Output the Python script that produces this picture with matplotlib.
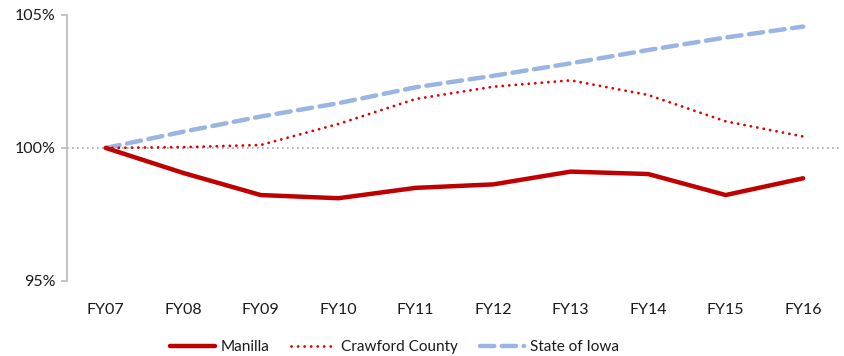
import matplotlib
matplotlib.use("Agg")
import matplotlib.pyplot as plt
from matplotlib.ticker import FuncFormatter

years = ['FY07', 'FY08', 'FY09', 'FY10', 'FY11', 'FY12', 'FY13', 'FY14', 'FY15', 'FY16']
manilla = [100.0, 99.06, 98.23, 98.11, 98.50, 98.63, 99.11, 99.02, 98.23, 98.86]
crawford = [100.0, 100.03, 100.11, 100.90, 101.84, 102.30, 102.54, 101.99, 101.00, 100.43]
iowa = [100.0, 100.61, 101.18, 101.68, 102.28, 102.71, 103.18, 103.68, 104.15, 104.56]

plt.rcParams['font.family'] = ['Lato', 'DejaVu Sans']

fig = plt.figure(figsize=(8.45, 3.56), dpi=100)
ax = fig.add_axes([0.0793, 0.2107, 0.917, 0.7475])

x = range(len(years))
ax.axhline(100, color='#a6a6a6', lw=1.2, ls=(0, (1, 2)), zorder=1)
ax.plot(x, manilla, color='#c00000', lw=3.2, solid_capstyle='round',
        solid_joinstyle='round', label='Manilla', zorder=3)
ax.plot(x, crawford, color='#e00000', lw=2.0, ls=(0, (0.05, 2.3)),
        dash_capstyle='round', label='Crawford County', zorder=3)
ax.plot(x, iowa, color='#9ab5e3', lw=3.2, ls=(0, (3.2, 1.7)),
        dash_capstyle='round', label='State of Iowa', zorder=2)

ax.set_xlim(-0.5, len(years) - 0.5)
ax.set_ylim(95, 105)
ax.set_yticks([95, 100, 105])
ax.yaxis.set_major_formatter(FuncFormatter(lambda v, p: '{:.0f}%'.format(v)))
ax.set_xticks(list(x))
ax.set_xticklabels(years)

for s in ['top', 'right', 'bottom']:
    ax.spines[s].set_visible(False)
ax.spines['left'].set_color('#bfbfbf')
ax.spines['left'].set_linewidth(1.3)
ax.tick_params(axis='y', colors='#bfbfbf', length=4, width=1.3, labelcolor='#1a1a1a',
               labelsize=11.5, pad=4)
ax.tick_params(axis='x', length=0, labelcolor='#1a1a1a', labelsize=11.5, pad=16)

ax.legend(loc='upper center', bbox_to_anchor=(0.423, -0.17), ncol=3, frameon=False,
          fontsize=11, handlelength=2.9, handletextpad=0.4, columnspacing=1.4,
          labelcolor='#1a1a1a')

fig.savefig('out.png', dpi=100)
